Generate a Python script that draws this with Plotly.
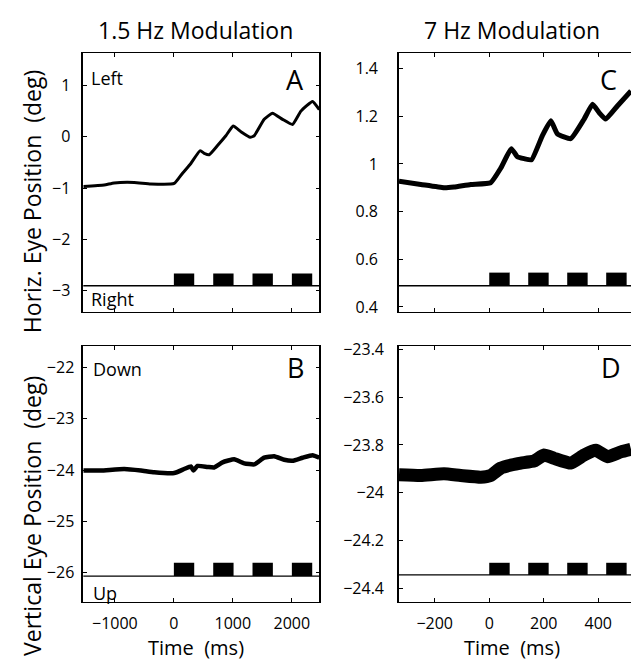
import plotly.graph_objects as go

W, H = 631, 667
FONT = "Open Sans"

# ---------------- data ----------------
# Panel A: horizontal eye position, 1.5 Hz modulation
t_A = [-1535, -1181, -1012, -673, -390, 6, 147, 288, 446, 525, 599, 740, 881, 1006,
       1136, 1294, 1362, 1531, 1672, 1842, 2011, 2153, 2350, 2465]
horiz_A = [-0.97, -0.94, -0.90, -0.89, -0.92, -0.91, -0.71, -0.52, -0.27, -0.33, -0.35,
           -0.17, 0.02, 0.21, 0.10, -0.01, 0.02, 0.34, 0.46, 0.34, 0.24, 0.50, 0.69, 0.53]

# Panel B: vertical eye position, 1.5 Hz modulation
t_B = [-1535, -1237, -842, -559, -333, 6, 175, 288, 333, 401, 571, 684, 825, 1023,
       1192, 1362, 1531, 1701, 1870, 2011, 2181, 2350, 2465]
vert_B = [-24.01, -24.01, -23.98, -24.01, -24.045, -24.06, -23.98, -23.93, -24.01, -23.92,
          -23.94, -23.95, -23.85, -23.79, -23.87, -23.89, -23.76, -23.73, -23.80, -23.82,
          -23.76, -23.71, -23.76]

# Panel C: horizontal eye position, 7 Hz modulation
t_C = [-331, -251, -166, -129, -68, 5, 42, 81, 103, 128, 155, 195, 226, 250, 299,
       348, 379, 403, 427, 470, 520]
horiz_C = [0.927, 0.914, 0.900, 0.903, 0.914, 0.921, 0.982, 1.064, 1.030, 1.022, 1.017,
           1.119, 1.181, 1.126, 1.106, 1.188, 1.250, 1.215, 1.188, 1.243, 1.306]

# Panel D: vertical eye position, 7 Hz modulation
t_D = [-331, -251, -166, -105, -31, 5, 42, 85, 116, 165, 201, 238, 299, 348, 391,
       434, 483, 520]
vert_D = [-23.925, -23.928, -23.921, -23.928, -23.935, -23.928, -23.897, -23.883, -23.876,
          -23.867, -23.842, -23.856, -23.876, -23.842, -23.822, -23.849, -23.829, -23.818]

# stimulus-on periods
stim_on_slow = [0, 667, 1333, 2000]
stim_dur_slow = 345
stim_on_fast = [0, 143, 286, 429]
stim_dur_fast = 75

# stimulus marker baseline / top levels (data units of each panel)
stim_base = {"A": -2.904, "B": -26.07, "C": 0.489, "D": -24.345}
stim_top = {"A": -2.663, "B": -25.81, "C": 0.544, "D": -24.294}

# axis ranges and ticks
xrange_slow = [-1535, 2465]
xrange_fast = [-331, 520]
xticks_slow = [-1000, 0, 1000, 2000]
xticks_fast = [-200, 0, 200, 400]
yrange = {"A": [-3.415, 1.637], "B": [-26.574, -21.585],
          "C": [0.379, 1.466], "D": [-24.458, -23.386]}
yticks = {"A": [-3, -2, -1, 0, 1], "B": [-26, -25, -24, -23, -22],
          "C": [0.4, 0.6, 0.8, 1.0, 1.2, 1.4],
          "D": [-24.4, -24.2, -24.0, -23.8, -23.6, -23.4]}


def fmt(v):
    s = ("%g" % v)
    return s.replace("-", "\u2212")


# ---------------- layout geometry (pixels) ----------------
def dx(a, b):
    return [a / W, b / W]


def dy(top, bottom):
    return [1 - bottom / H, 1 - top / H]


def px(x):
    return x / W


def py(y):
    return 1 - y / H


panels = {
    "A": ("x", "y", dx(83.3, 319.3), dy(45.7, 310), "slow", True),
    "C": ("x2", "y2", dx(399, 631), dy(45.7, 310), "fast", True),
    "B": ("x3", "y3", dx(83.3, 319.3), dy(345, 605.7), "slow", False),
    "D": ("x4", "y4", dx(399, 631), dy(345, 605.7), "fast", False),
}
series = {"A": (t_A, horiz_A, 3), "B": (t_B, vert_B, 4.5),
          "C": (t_C, horiz_C, 5), "D": (t_D, vert_D, 13)}

fig = go.Figure()
layout = dict(width=W, height=H, margin=dict(l=0, r=0, t=0, b=0), autosize=False,
              paper_bgcolor="white", plot_bgcolor="white", showlegend=False,
              font=dict(family=FONT, color="black"), shapes=[], annotations=[])

for key, (xa, ya, xd, yd, speed, top) in panels.items():
    left = key in ("A", "B")
    xs, ys, lw = series[key]
    fig.add_trace(go.Scatter(x=xs, y=ys, mode="lines", xaxis=xa, yaxis=ya,
                             line=dict(color="black", width=lw, shape="spline",
                                       smoothing=0.4),
                             hoverinfo="skip"))
    on = stim_on_slow if speed == "slow" else stim_on_fast
    dur = stim_dur_slow if speed == "slow" else stim_dur_fast
    fig.add_trace(go.Bar(x=[s + dur / 2 for s in on],
                         y=[stim_top[key] - stim_base[key]] * len(on),
                         base=[stim_base[key]] * len(on), width=[dur] * len(on),
                         marker=dict(color="black", line=dict(width=0)),
                         xaxis=xa, yaxis=ya, hoverinfo="skip"))
    layout["shapes"].append(dict(type="line", xref=xa + " domain", yref=ya,
                                 x0=0, x1=1, y0=stim_base[key], y1=stim_base[key],
                                 line=dict(color="black", width=1.3)))
    xt = xticks_slow if speed == "slow" else xticks_fast
    xaxis = dict(domain=xd, anchor=ya,
                 range=xrange_slow if speed == "slow" else xrange_fast,
                 tickvals=xt, ticktext=[fmt(v) for v in xt],
                 showticklabels=not top, ticks="inside", ticklen=4, tickwidth=1,
                 tickcolor="black", showline=True, linecolor="black", linewidth=1.2,
                 mirror="ticks", showgrid=False, zeroline=False,
                 tickfont=dict(family=FONT, size=16, color="black"),
                 ticklabelstandoff=7, fixedrange=True)
    yt = yticks[key]
    yaxis = dict(domain=yd, anchor=xa, range=yrange[key],
                 tickvals=yt, ticktext=[fmt(v) for v in yt],
                 ticks="inside", ticklen=4, tickwidth=1, tickcolor="black",
                 showline=True, linecolor="black", linewidth=1.6,
                 mirror="ticks" if left else False, showgrid=False, zeroline=False,
                 tickfont=dict(family=FONT, size=16, color="black"),
                 ticklabelstandoff={"A": 8, "B": 4, "C": 16, "D": 10}[key],
                 fixedrange=True)
    xname = "xaxis" if xa == "x" else "xaxis" + xa[1:]
    yname = "yaxis" if ya == "y" else "yaxis" + ya[1:]
    layout[xname] = xaxis
    layout[yname] = yaxis


def ann(text, x, y, size, xanchor="center", angle=0):
    layout["annotations"].append(dict(text=text, x=px(x), y=py(y), xref="paper",
                                      yref="paper", showarrow=False, xanchor=xanchor,
                                      yanchor="middle", textangle=angle,
                                      font=dict(family=FONT, size=size, color="black")))


ann("1.5 Hz Modulation", 195, 22, 23)
ann("7 Hz Modulation", 512, 22, 23)
ann("Horiz. Eye Position  (deg)", 32, 198, 23, angle=-90)
ann("Vertical Eye Position  (deg)", 32, 518, 23, angle=-90)
ann("Time  (ms)", 196, 652, 20)
ann("Time  (ms)", 512, 652, 20)
ann("A", 295, 73, 27)
ann("B", 295, 367, 27)
ann("C", 608, 73, 27)
ann("D", 611, 367, 27)
ann("Left", 89, 71, 18, xanchor="left")
ann("Right", 89, 297, 18, xanchor="left")
ann("Down", 91, 368, 18, xanchor="left")
ann("Up", 91, 597, 18, xanchor="left")

fig.update_layout(**layout)
fig.write_html("out.html", config={"displayModeBar": False})
